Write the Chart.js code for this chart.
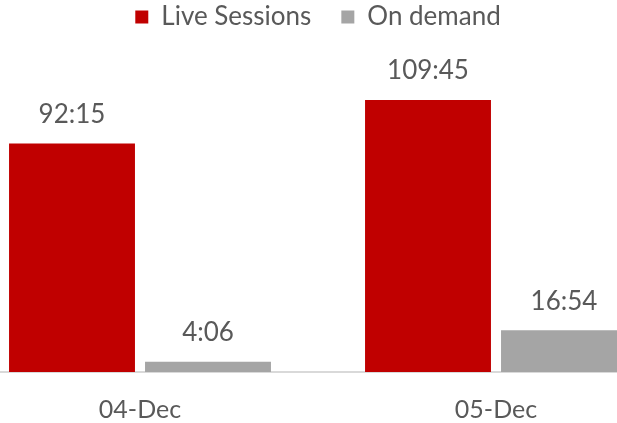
<!DOCTYPE html>
<html>
<head>
<meta charset="utf-8">
<script src="https://cdn.jsdelivr.net/npm/chart.js@4"></script>
<style>
  html, body { margin: 0; padding: 0; background: #ffffff; overflow: hidden; width: 617px; height: 423px; }
  #wrap { position: absolute; left: -38px; top: 0; width: 712px; height: 423px; }
</style>
</head>
<body>
<div id="wrap"><canvas id="c"></canvas></div>
<script>
const categories = ["04-Dec", "05-Dec"];
const liveSessions = ["92:15", "109:45"];
const onDemand = ["4:06", "16:54"];
const seriesNames = ["Live Sessions", "On demand"];

function toHours(s) { const p = s.split(":"); return Number(p[0]) + Number(p[1]) / 60; }

const TEXT = "#595959";
const FONT = "Lato, 'Open Sans', sans-serif";

const labelPlugin = {
  id: "barLabels",
  afterDatasetsDraw(chart) {
    const ctx = chart.ctx;
    ctx.save();
    ctx.font = "26px " + FONT;
    ctx.fillStyle = TEXT;
    ctx.textAlign = "center";
    ctx.textBaseline = "middle";
    chart.data.datasets.forEach((ds, i) => {
      const meta = chart.getDatasetMeta(i);
      meta.data.forEach((bar, j) => {
        ctx.fillText(ds.rawLabels[j], bar.x, bar.y - 29);
      });
    });
    ctx.restore();
  }
};

new Chart(document.getElementById("c"), {
  type: "bar",
  data: {
    labels: categories,
    datasets: [
      { label: seriesNames[0], data: liveSessions.map(toHours), rawLabels: liveSessions, backgroundColor: "#C00000" },
      { label: seriesNames[1], data: onDemand.map(toHours), rawLabels: onDemand, backgroundColor: "#A5A5A5" }
    ]
  },
  options: {
    responsive: true,
    maintainAspectRatio: false,
    animation: false,
    categoryPercentage: 0.764,
    barPercentage: 0.926,
    layout: { padding: { top: -26, bottom: -17, left: 0, right: 0 } },
    plugins: {
      legend: {
        position: "top",
        labels: {
          font: { family: FONT, size: 26 },
          color: TEXT,
          boxWidth: 13,
          boxHeight: 13,
          padding: 30
        }
      },
      tooltip: { enabled: false }
    },
    scales: {
      x: {
        grid: { display: false },
        border: { display: true, color: "#D9D9D9", width: 2 },
        ticks: { font: { family: FONT, size: 25 }, color: TEXT, padding: 15 }
      },
      y: {
        display: false,
        min: 0,
        max: 134
      }
    }
  },
  plugins: [labelPlugin]
});
</script>
</body>
</html>
